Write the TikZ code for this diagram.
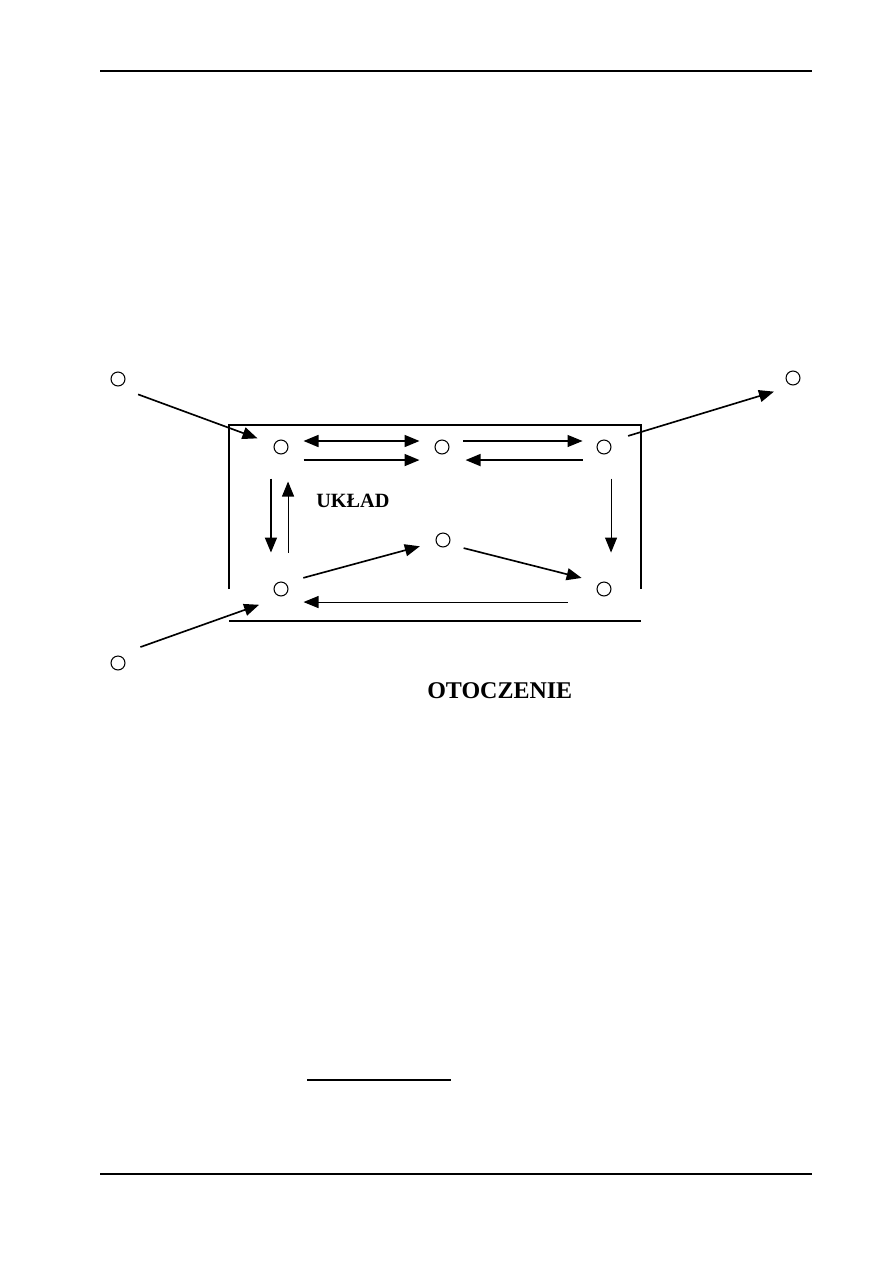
\documentclass[tikz,border=0pt]{standalone}
\usepackage{fontspec}
\setmainfont{Liberation Serif}
\usetikzlibrary{arrows.meta}

\begin{document}
\begin{tikzpicture}[x=0.6667pt,y=-0.6667pt,>={Triangle[length=10pt,width=8pt]},
        pkt/.style={draw,circle,inner sep=0pt,minimum size=9.3pt,line width=0.7pt},
        gruba/.style={line width=1.1pt},
        cienka/.style={line width=0.7pt}]
    \useasboundingbox (0,0) rectangle (893,1263);
    % linie strony
    \draw[cienka] (100,71) -- (812,71);
    \draw[cienka] (100,1174) -- (812,1174);
    \draw[cienka] (307,1080) -- (451,1080);
    % punkty
    \foreach \x/\y/\name in {118/379/P, 793/378/Q, 118/663/R, 281/447/A, 442/447/B, 604/447/C, 443/540/D, 281/589/E, 604/589/F} {
        \node[pkt] (\name) at (\x,\y) {};
    }
    % granica ukladu
    \draw[cienka] (229,589) -- (229,425) -- (641,425) -- (641,589);
    \draw[gruba] (229,621) -- (641,621);
    \node[anchor=base west,inner sep=0pt,font=\fontsize{13.5}{16}\selectfont\bfseries] (uklad) at (316,507) {UKŁAD};
    \node[anchor=base west,inner sep=0pt,font=\fontsize{16}{19}\selectfont\bfseries] (otoczenie) at (427,698) {OTOCZENIE};
    % strzalki
    \draw[gruba,->,shorten <=16.1pt,shorten >=16.7pt] (P.-110) -- (A.center);
    \draw[gruba,->,shorten <=16.8pt,shorten >=14.8pt] ([yshift=2.5pt]C.center) -- (Q.-73);
    \draw[gruba,->,shorten <=17.7pt,shorten >=17.4pt] (R.110) -- (E.-69);
    \draw[gruba,<->,shorten <=10pt,shorten >=10pt] ([yshift=4pt]A.east) -- ([yshift=4pt]B.west);
    \draw[gruba,->,shorten <=10pt,shorten >=10pt] ([yshift=-8.7pt]A.east) -- ([yshift=-8.7pt]B.west);
    \draw[cienka,->,shorten <=9.3pt,shorten >=9.3pt] ([yshift=4pt]B.east) -- ([yshift=4pt]C.west);
    \draw[gruba,->,shorten <=9.3pt,shorten >=10.7pt] ([yshift=-8.7pt]C.west) -- ([yshift=-8.7pt]B.east);
    \draw[gruba,->,shorten <=16pt,shorten >=19.3pt] ([xshift=-6.7pt]A.south) -- ([xshift=-6.7pt]E.north);
    \draw[cienka,->,shorten <=19.3pt,shorten >=18pt] ([xshift=4.7pt]E.north) -- ([xshift=4.7pt]A.south);
    \draw[cienka,->,shorten <=16pt,shorten >=19.3pt] ([xshift=4.7pt]C.south) -- ([xshift=4.7pt]F.north);
    \draw[gruba,->,shorten <=15.4pt,shorten >=16pt] ([yshift=3.4pt]E.center) -- (D.center);
    \draw[gruba,->,shorten <=14.2pt,shorten >=15.4pt] ([yshift=-1.9pt]D.center) -- ([yshift=3.6pt]F.center);
    \draw[cienka,->,shorten <=19.3pt,shorten >=10pt] ([yshift=-8.7pt]F.west) -- ([yshift=-8.7pt]E.east);
\end{tikzpicture}
\end{document}
